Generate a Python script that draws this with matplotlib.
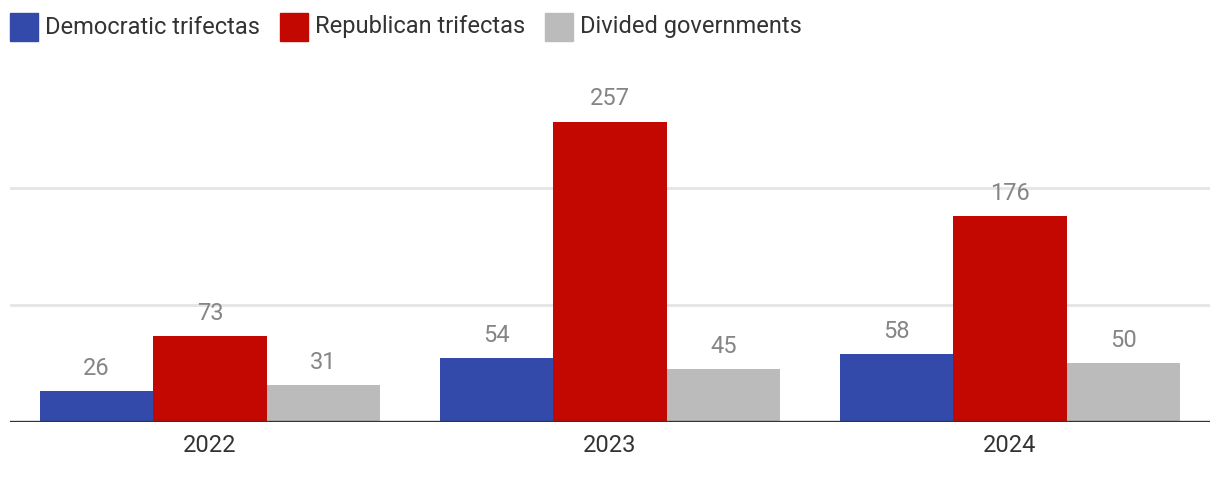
import matplotlib
matplotlib.use("Agg")
import matplotlib.pyplot as plt
import numpy as np
from matplotlib.patches import Rectangle

plt.rcParams['font.family'] = ['Roboto', 'DejaVu Sans']

years = ["2022", "2023", "2024"]
series_names = ["Democratic trifectas", "Republican trifectas", "Divided governments"]
democratic = [26, 54, 58]
republican = [73, 257, 176]
divided = [31, 45, 50]
colors = ["#334aab", "#c20800", "#bbbbbb"]
grid_values = [100, 200]

W, H = 1220, 478
fig = plt.figure(figsize=(W / 100, H / 100), dpi=100)
ax_left, ax_right = 10, 1210
ax_bottom_px, ax_top_px = 421.5, 60
ax = fig.add_axes([ax_left / W, (H - ax_bottom_px) / H,
                   (ax_right - ax_left) / W, (ax_bottom_px - ax_top_px) / H])

x = np.arange(len(years))
bw = 0.2833
data = [democratic, republican, divided]
for i, (vals, c) in enumerate(zip(data, colors)):
    pos = x + (i - 1) * bw
    ax.bar(pos, vals, width=bw, color=c, zorder=3, linewidth=0)
    for p, v in zip(pos, vals):
        ax.annotate(str(v), (p, v), xytext=(0, 8), textcoords="offset points",
                    ha="center", va="bottom", fontsize=17, color="#858585", zorder=4)

ax.set_xlim(-0.5, 2.5)
ymax = (ax_bottom_px - ax_top_px) / (116.7 / 100)
ax.set_ylim(0, ymax)
for g in grid_values:
    ax.axhline(g, color="#e5e5e5", linewidth=2, zorder=1)
ax.axhline(0, color="#333333", linewidth=2.4, zorder=5)

ax.set_yticks([])
ax.set_xticks(x)
ax.set_xticklabels(years, fontsize=17, color="#333333")
ax.tick_params(axis="x", length=0, pad=9)
for s in ax.spines.values():
    s.set_visible(False)

# legend
fig.canvas.draw()
renderer = fig.canvas.get_renderer()
cur = 10
sq = 28
ytop = 13
for name, c in zip(series_names, colors):
    fig.patches.append(Rectangle((cur / W, (H - ytop - sq) / H), sq / W, sq / H,
                                 transform=fig.transFigure, color=c, figure=fig))
    t = fig.text((cur + sq + 7) / W, (H - ytop - sq / 2) / H, name, fontsize=17,
                 color="#333333", va="center", ha="left")
    bb = t.get_window_extent(renderer)
    cur = bb.x1 + 20

fig.savefig("out.png", dpi=100)
